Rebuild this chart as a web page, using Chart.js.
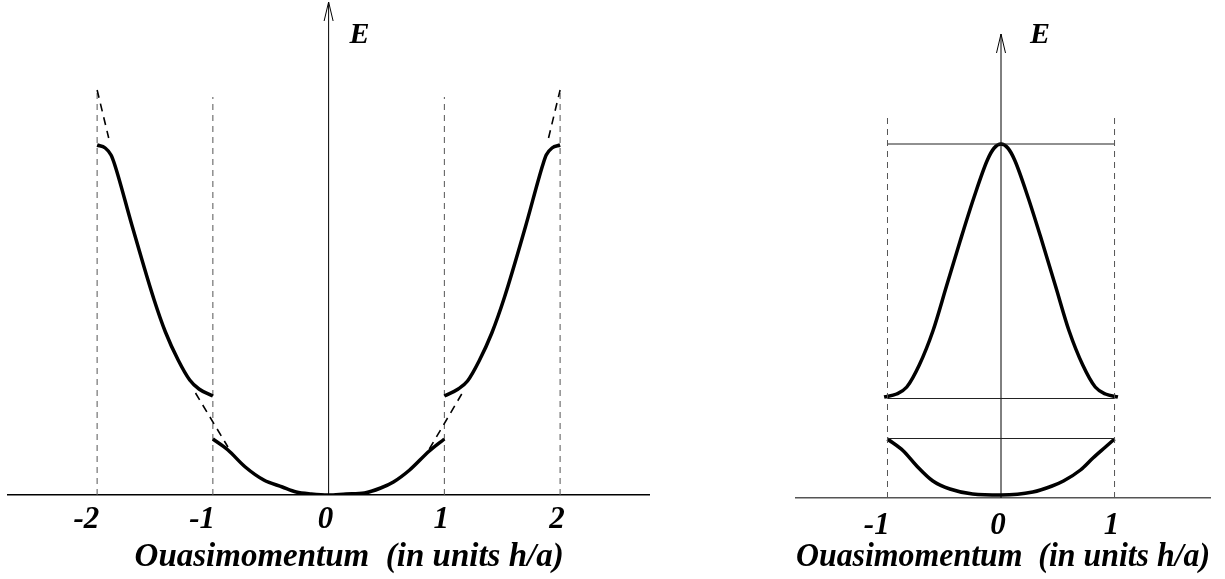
<!DOCTYPE html>
<html>
<head>
<meta charset="utf-8">
<script src="https://cdn.jsdelivr.net/npm/chart.js@4.4.1/dist/chart.umd.min.js"></script>
<style>
  body { margin: 0; background: #fff; }
  canvas { position: absolute; top: 0; }
  #leftChart { left: 0; }
  #rightChart { left: 760px; }
</style>
</head>
<body>
<canvas id="leftChart" width="660" height="579"></canvas>
<canvas id="rightChart" width="465" height="579"></canvas>
<script>
// ---- left panel: extended zone scheme ----
const leftTicks = [-2, -1, 0, 1, 2];
const leftUpperAK = [-2.0, -1.93, -1.88, -1.85, -1.7, -1.51, -1.41, -1.3, -1.2, -1.12, -1.0];
const leftUpperAE = [350, 347, 340, 331, 270, 196, 163, 135, 115, 106, 99];
const leftUpperBK = [1.0, 1.12, 1.2, 1.3, 1.41, 1.52, 1.7, 1.85, 1.88, 1.93, 2.0];
const leftUpperBE = [99, 106, 114, 134, 162, 198, 268, 330, 340, 347, 350];
const leftLowerK = [-1.0, -0.87, -0.72, -0.56, -0.4, -0.28, -0.15, 0, 0.15, 0.31, 0.45, 0.56, 0.7, 0.87, 1.0];
const leftLowerE = [56, 45, 28, 15, 8, 3, 1, 0, 1, 2, 7, 13, 25, 44, 56];
// free electron parabola, only the bits that show
const freeTopAK = [-2.0, -1.9];
const freeTopAE = [405, 357];
const freeTopBK = [1.9, 2.0];
const freeTopBE = [357, 405];
const freeGapAK = [-1.15, -0.87];
const freeGapAE = [102, 48];
const freeGapBK = [0.87, 1.15];
const freeGapBE = [46, 101];
const leftZoneK = [-2, -1, 1, 2];
const leftZoneTop = [405, 398, 398, 405];

// ---- right panel: reduced zone scheme ----
const rightTicks = [-1, 0, 1];
const rightUpperK = [-1.03, -0.92, -0.83, -0.72, -0.6, -0.48, -0.36, -0.24, -0.12, -0.06, 0, 0.06, 0.12, 0.24, 0.36, 0.48, 0.6, 0.72, 0.83, 0.92, 1.03];
const rightUpperE = [101, 104, 111, 133, 167, 212, 257, 300, 338, 350, 354, 350, 338, 300, 257, 212, 167, 133, 111, 104, 101];
const rightLowerK = [-1.0, -0.86, -0.75, -0.6, -0.45, -0.25, 0, 0.28, 0.45, 0.55, 0.7, 0.81, 0.92, 1.0];
const rightLowerE = [59, 47, 33, 17, 9, 4, 3, 6, 12, 17, 28, 40, 51, 59];
const rightLevels = [354, 99.5, 59.5];
const rightZoneK = [-1, 1];
const rightZoneTop = 384;

const serif = "'Liberation Serif', 'Times New Roman', serif";
const xTitle = 'Ouasimomentum  (in units h/a)';

function curve(k, e, extra) {
  return Object.assign({
    data: k.map((v, i) => ({ x: v, y: e[i] })),
    showLine: true,
    pointRadius: 0,
    borderColor: '#000',
    borderWidth: 3.5,
    cubicInterpolationMode: 'monotone',
    fill: false
  }, extra || {});
}

function straight(k, e, extra) {
  return curve(k, e, Object.assign({ cubicInterpolationMode: 'default', tension: 0 }, extra));
}

const zoneStyle = { borderColor: '#555', borderWidth: 1, borderDash: [6, 5] };
const freeStyle = { borderColor: '#000', borderWidth: 1.6, borderDash: [8, 6] };

// vertical E axis with open arrow head, plus the "E" label
const energyAxis = {
  id: 'energyAxis',
  beforeDatasetsDraw(chart, args, opts) {
    const { ctx, scales: { x, y } } = chart;
    const x0 = x.getPixelForValue(0);
    const yb = y.getPixelForValue(0);
    const yt = y.getPixelForValue(opts.top);
    ctx.save();
    ctx.strokeStyle = '#000';
    ctx.lineWidth = 1;
    ctx.beginPath();
    ctx.moveTo(x0, yb);
    ctx.lineTo(x0, yt);
    ctx.moveTo(x0 - 4.5, yt + 19);
    ctx.lineTo(x0, yt);
    ctx.lineTo(x0 + 4.5, yt + 19);
    ctx.stroke();
    ctx.fillStyle = '#000';
    ctx.font = 'italic bold 30px ' + serif;
    ctx.textBaseline = 'alphabetic';
    ctx.fillText('E', x0 + opts.labelDx, opts.labelY);
    ctx.restore();
  }
};

function makeChart(id, datasets, xmin, xmax, ymax, ticks, pad, axisHeight, tickPad, axisOpts, titleText, borderColor) {
  const ctx = document.getElementById(id).getContext('2d');
  return new Chart(ctx, {
    type: 'scatter',
    data: { datasets: datasets },
    plugins: [energyAxis],
    options: {
      responsive: false,
      animation: false,
      events: [],
      layout: { padding: pad },
      plugins: {
        legend: { display: false },
        tooltip: { enabled: false },
        energyAxis: axisOpts
      },
      scales: {
        x: {
          type: 'linear',
          min: xmin,
          max: xmax,
          afterBuildTicks: s => { s.ticks = ticks.map(v => ({ value: v })); },
          afterFit: s => { s.height = axisHeight; },
          grid: { display: false },
          border: { display: true, color: borderColor, width: 1.5 },
          ticks: {
            color: '#000',
            padding: tickPad,
            labelOffset: -3,
            font: { family: serif, size: 31, style: 'italic', weight: 'bold' },
            // the minus hangs to the left of the tick in the original
            callback: v => v < 0 ? v + '  ' : String(v)
          },
          title: {
            display: true,
            text: titleText,
            color: '#000',
            padding: { top: 0, bottom: 2 },
            font: { family: serif, size: 33, style: 'italic', weight: 'bold' }
          }
        },
        y: { display: false, min: 0, max: ymax }
      }
    }
  });
}

// left chart
const leftSets = [
  straight(freeTopAK, freeTopAE, freeStyle),
  straight(freeTopBK, freeTopBE, freeStyle),
  straight(freeGapAK, freeGapAE, freeStyle),
  straight(freeGapBK, freeGapBE, freeStyle),
  curve(leftUpperAK, leftUpperAE),
  curve(leftUpperBK, leftUpperBE),
  curve(leftLowerK, leftLowerE)
];
leftZoneK.forEach((k, i) => {
  leftSets.push(straight([k, k], [0, leftZoneTop[i]], zoneStyle));
});
makeChart('leftChart', leftSets, -2.77, 2.768, 495, leftTicks,
  { left: 8, right: 11, top: 0, bottom: 0 }, 84, -2,
  { top: 493, labelDx: 21, labelY: 43 }, '     ' + xTitle, '#000');

// right chart
const rightSets = [];
rightZoneK.forEach(k => {
  rightSets.push(straight([k, k], [0, rightZoneTop], zoneStyle));
});
rightLevels.forEach(e => {
  rightSets.push(straight([-1, 1], [e, e], { borderColor: '#222', borderWidth: 1.2 }));
});
rightSets.push(curve(rightUpperK, rightUpperE));
rightSets.push(curve(rightLowerK, rightLowerE));
makeChart('rightChart', rightSets, -1.806, 1.841, 498, rightTicks,
  { left: 36, right: 15, top: 0, bottom: 0 }, 81, 1,
  { top: 464, labelDx: 29, labelY: 43 }, xTitle, '#555');
</script>
</body>
</html>
